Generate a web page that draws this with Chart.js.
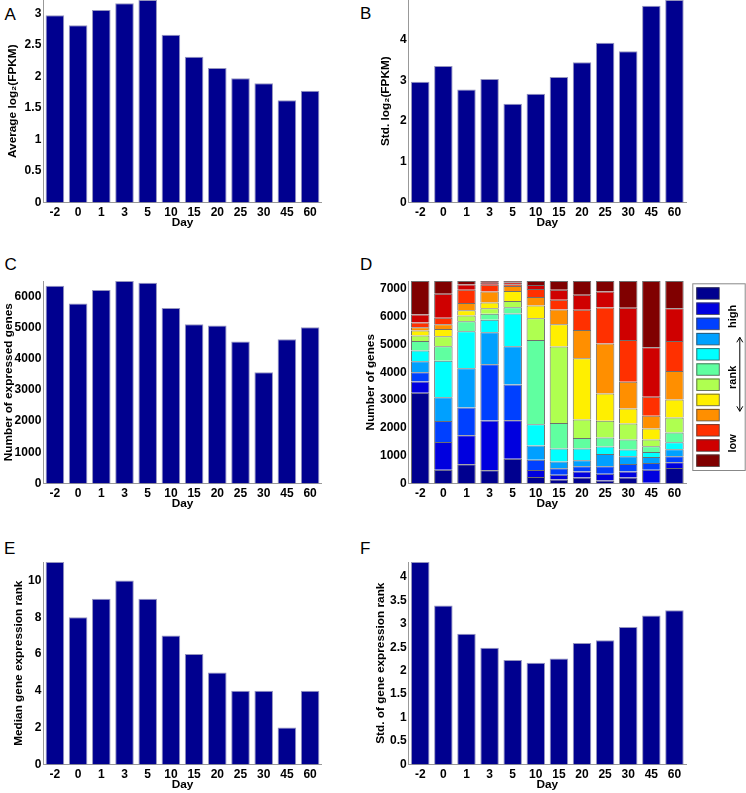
<!DOCTYPE html>
<html>
<head>
<meta charset="utf-8">
<script src="https://cdn.jsdelivr.net/npm/chart.js@4.4.1/dist/chart.umd.min.js"></script>
<style>
  body { margin: 0; width: 746px; height: 793px; position: relative; overflow: hidden; background: #fff; font-family: 'Liberation Sans', Arial, sans-serif; }
  canvas { position: absolute; }
  .tag { position: absolute; font-size: 17px; line-height: 1; color: #000; }
</style>
</head>
<body>
<div class="tag" style="left:4.5px;top:6px">A</div>
<div class="tag" style="left:360px;top:5px">B</div>
<div class="tag" style="left:4.5px;top:256px">C</div>
<div class="tag" style="left:360px;top:256px">D</div>
<div class="tag" style="left:4px;top:539.5px">E</div>
<div class="tag" style="left:360px;top:539.5px">F</div>

<canvas id="chartA" width="330" height="242" style="left:0;top:-12px"></canvas>
<canvas id="chartB" width="386" height="242" style="left:360px;top:-12px"></canvas>
<canvas id="chartC" width="330" height="242" style="left:0;top:269px"></canvas>
<canvas id="chartD" width="386" height="242" style="left:360px;top:269px"></canvas>
<canvas id="chartE" width="330" height="242" style="left:0;top:550px"></canvas>
<canvas id="chartF" width="386" height="242" style="left:360px;top:550px"></canvas>

<script>
// days on the x axis
const days = ['-2', '0', '1', '3', '5', '10', '15', '20', '25', '30', '45', '60'];

// A-C, E-F: one value per day
const avgLogFpkm = [2.97, 2.81, 3.05, 3.16, 3.21, 2.66, 2.31, 2.13, 1.97, 1.89, 1.62, 1.77];
const stdLogFpkm = [2.96, 3.35, 2.77, 3.03, 2.42, 2.67, 3.08, 3.44, 3.92, 3.71, 4.83, 4.97];
const expressedGenes = [6355, 5784, 6216, 6505, 6452, 5635, 5118, 5075, 4559, 3570, 4634, 5022];
const medianRank = [11, 8, 9, 10, 9, 7, 6, 5, 4, 4, 2, 4];
const stdRank = [4.32, 3.39, 2.79, 2.49, 2.23, 2.17, 2.26, 2.59, 2.65, 2.93, 3.18, 3.29];

// D: number of genes in each expression-rank group (1 = high ... 12 = low)
const rank1  = [3260, 494, 686, 469, 890, 229, 144, 216, 100, 216, 20, 553];
const rank2  = [409, 997, 1046, 1793, 1378, 251, 169, 216, 250, 214, 474, 205];
const rank3  = [325, 749, 999, 2021, 1287, 375, 232, 188, 270, 270, 240, 217];
const rank4  = [397, 860, 1408, 1155, 1378, 505, 245, 210, 433, 275, 217, 252];
const rank5  = [385, 1310, 1336, 445, 1179, 770, 462, 422, 270, 241, 180, 253];
const rank6  = [349, 520, 361, 216, 223, 3031, 918, 378, 332, 367, 205, 349];
const rank7  = [192, 365, 204, 205, 222, 782, 2750, 669, 600, 569, 242, 541];
const rank8  = [181, 255, 188, 204, 361, 457, 806, 2200, 982, 538, 396, 650];
const rank9  = [120, 170, 258, 397, 181, 301, 530, 1023, 1792, 967, 456, 1022];
const rank10 = [168, 240, 480, 241, 60, 288, 348, 722, 1300, 1504, 686, 1083];
const rank11 = [289, 862, 187, 72, 72, 145, 361, 541, 576, 1155, 1780, 1179];
const rank12 = [1205, 458, 127, 62, 49, 146, 315, 495, 375, 964, 2384, 976];
const rankColors = ['#00008F', '#0000DF', '#0040FF', '#00A0FF', '#00FFFF', '#60FFA0',
                    '#AFFF50', '#FFEF00', '#FF8F00', '#FF3000', '#CF0000', '#800000'];

// tick labels
const ticksA = [0, 0.5, 1, 1.5, 2, 2.5, 3];
const ticksB = [0, 1, 2, 3, 4];
const ticksC = [0, 1000, 2000, 3000, 4000, 5000, 6000];
const ticksD = [0, 1000, 2000, 3000, 4000, 5000, 6000, 7000];
const ticksE = [0, 2, 4, 6, 8, 10];
const ticksF = [0, 0.5, 1, 1.5, 2, 2.5, 3, 3.5, 4];

Chart.defaults.font.family = "'Liberation Sans', Arial, sans-serif";
Chart.defaults.color = '#000';

const tickFont = { size: 12, weight: 'bold' };
const titleFont = { size: 11.8, weight: 'bold' };
const barColor = '#00008F';

function panelOptions(yTicks, yMax, yTitle, titlePad, yWidth, rightPad, stacked) {
    return {
        responsive: false,
        animation: false,
        layout: { padding: { top: 12, right: rightPad, bottom: 0, left: 0 } },
        plugins: { legend: { display: false }, tooltip: { enabled: false } },
        scales: {
            x: {
                stacked: stacked,
                grid: { display: false, drawTicks: false },
                border: { display: true, color: '#999' },
                ticks: { font: tickFont, padding: 2.8, maxRotation: 0, autoSkip: false },
                title: { display: true, text: 'Day', font: titleFont, padding: 0 },
                afterFit: (s) => { s.height = 27.6; }
            },
            y: {
                stacked: stacked,
                min: 0,
                max: yMax,
                grid: { display: false, drawTicks: false },
                border: { display: true, color: '#999' },
                ticks: { font: tickFont, padding: 2, callback: (v) => String(v) },
                afterBuildTicks: (s) => { s.ticks = yTicks.map(v => ({ value: v })); },
                title: { display: true, text: yTitle, font: titleFont, padding: { top: titlePad, bottom: 0 } },
                afterFit: (s) => { s.width = yWidth; }
            }
        }
    };
}

function barPanel(id, values, yTicks, yTitle, titlePad, yWidth, rightPad) {
    return new Chart(document.getElementById(id), {
        type: 'bar',
        data: {
            labels: days,
            datasets: [{
                data: values,
                backgroundColor: barColor,
                borderColor: 'rgba(130,130,180,0.85)',
                borderWidth: 1,
                barPercentage: 0.8,
                categoryPercentage: 1.0
            }]
        },
        options: panelOptions(yTicks, Math.max(...values), yTitle, titlePad, yWidth, rightPad, false)
    });
}

// legend box of panel D
const rankLegend = {
    id: 'rankLegend',
    afterDraw(chart) {
        const ctx = chart.ctx;
        const bx = chart.chartArea.right + 6.3;
        const by = chart.chartArea.top + 2.3;
        ctx.save();
        ctx.fillStyle = '#fff';
        ctx.fillRect(bx, by, 52.4, 186.7);
        ctx.strokeStyle = '#888';
        ctx.lineWidth = 1;
        ctx.strokeRect(bx + 0.5, by + 0.5, 52.4, 186.7);
        chart.data.datasets.forEach((ds, i) => {
            const sy = by + 4 + i * 15.2;
            ctx.fillStyle = ds.backgroundColor;
            ctx.fillRect(bx + 4, sy, 23, 12);
            ctx.strokeStyle = 'rgba(60,60,60,0.7)';
            ctx.strokeRect(bx + 4.5, sy + 0.5, 22.5, 11.5);
        });
        ctx.fillStyle = '#000';
        ctx.font = "bold 11px 'Liberation Sans', Arial, sans-serif";
        ctx.textAlign = 'center';
        ctx.textBaseline = 'middle';
        [['high', 33], ['rank', 94], ['low', 160]].forEach(([t, dy]) => {
            ctx.save();
            ctx.translate(bx + 40.5, by + dy);
            ctx.rotate(-Math.PI / 2);
            ctx.fillText(t, 0, 0);
            ctx.restore();
        });
        // double arrow
        const ax = bx + 47.5, a0 = by + 54, a1 = by + 128;
        ctx.strokeStyle = '#000';
        ctx.beginPath();
        ctx.moveTo(ax, a0); ctx.lineTo(ax, a1);
        ctx.moveTo(ax - 3, a0 + 5); ctx.lineTo(ax, a0); ctx.lineTo(ax + 3, a0 + 5);
        ctx.moveTo(ax - 3, a1 - 5); ctx.lineTo(ax, a1); ctx.lineTo(ax + 3, a1 - 5);
        ctx.stroke();
        ctx.restore();
    }
};

barPanel('chartA', avgLogFpkm, ticksA, 'Average log\u2082(FPKM)', 5.7, 43.3, 8.3);
barPanel('chartB', stdLogFpkm, ticksB, 'Std. log\u2082(FPKM)', 18.4, 48.7, 60);
barPanel('chartC', expressedGenes, ticksC, 'Number of expressed genes', 1.7, 43.3, 8.3);
barPanel('chartE', medianRank, ticksE, 'Median gene expression rank', 11.9, 43.3, 8.3);
barPanel('chartF', stdRank, ticksF, 'Std. of gene expression rank', 13.9, 48.7, 60);

const rankGroups = [rank1, rank2, rank3, rank4, rank5, rank6, rank7, rank8, rank9, rank10, rank11, rank12];
const totalGenes = days.map((_, i) => rankGroups.reduce((sum, g) => sum + g[i], 0));

new Chart(document.getElementById('chartD'), {
    type: 'bar',
    data: {
        labels: days,
        datasets: rankGroups.map((g, i) => ({
            data: g,
            backgroundColor: rankColors[i],
            borderColor: 'rgba(50,50,50,0.7)',
            borderWidth: 1,
            barPercentage: 0.8,
            categoryPercentage: 1.0
        }))
    },
    options: panelOptions(ticksD, Math.max(...totalGenes), 'Number of genes', 3.9, 48.7, 60, true),
    plugins: [rankLegend]
});
</script>
</body>
</html>
